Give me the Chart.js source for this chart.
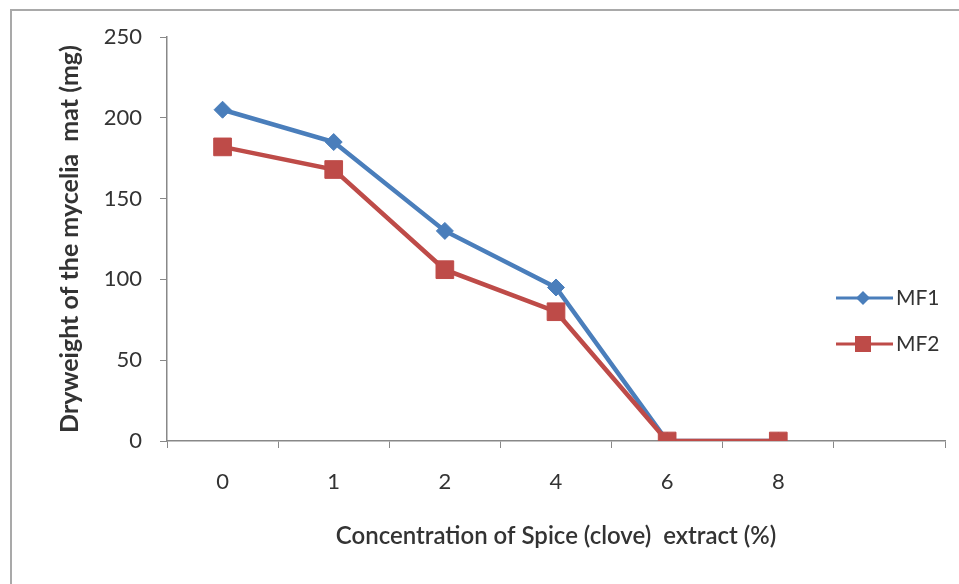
<!DOCTYPE html>
<html lang="en">
<head>
    <meta charset="UTF-8">
    <title>Dry weight of mycelia mat</title>
    <script src="https://cdn.jsdelivr.net/npm/chart.js"></script>
    <style>
        html, body {
            margin: 0;
            padding: 0;
            background: #fff;
            overflow: hidden;
        }
        #wrap {
            position: relative;
            width: 959px;
            height: 584px;
        }
        #frame {
            position: absolute;
            left: 10px;
            top: 9px;
            width: 1000px;
            height: 700px;
            border: 2px solid #a9a9a9;
        }
        canvas {
            position: absolute;
            left: 0;
            top: 0;
        }
    </style>
</head>
<body>
    <div id="wrap">
        <div id="frame"></div>
        <canvas id="chart" width="959" height="584"></canvas>
    </div>

    <script>
        // data
        const concentrations = ['0', '1', '2', '4', '6', '8', ''];
        const mf1 = [205, 185, 130, 95, 0, 0, null];
        const mf2 = [182, 168, 106, 80, 0, 0, null];
        const yTicks = [0, 50, 100, 150, 200, 250];

        const blue = '#4a7ebb';
        const red = '#be4b48';
        const axisGray = '#888888';
        const textColor = '#333333';

        // legend sits inside the empty last slot, drawn by hand
        const sideLegend = {
            id: 'sideLegend',
            afterDraw(chart) {
                const ctx = chart.ctx;
                const items = [
                    { label: 'MF1', color: blue, shape: 'diamond', y: 298 },
                    { label: 'MF2', color: red, shape: 'square', y: 344 }
                ];
                ctx.save();
                items.forEach(it => {
                    ctx.strokeStyle = it.color;
                    ctx.fillStyle = it.color;
                    ctx.lineWidth = 3;
                    ctx.beginPath();
                    ctx.moveTo(836, it.y);
                    ctx.lineTo(893, it.y);
                    ctx.stroke();
                    ctx.beginPath();
                    if (it.shape === 'diamond') {
                        ctx.moveTo(863, it.y - 7);
                        ctx.lineTo(870, it.y);
                        ctx.lineTo(863, it.y + 7);
                        ctx.lineTo(856, it.y);
                        ctx.closePath();
                    } else {
                        ctx.rect(855, it.y - 8, 16, 16);
                    }
                    ctx.fill();
                    ctx.fillStyle = textColor;
                    ctx.font = '21px Lato';
                    ctx.textAlign = 'left';
                    ctx.textBaseline = 'middle';
                    ctx.fillText(it.label, 896, it.y);
                });
                ctx.restore();
            }
        };

        const ctx = document.getElementById('chart').getContext('2d');
        new Chart(ctx, {
            type: 'line',
            data: {
                labels: concentrations,
                datasets: [
                    {
                        label: 'MF1',
                        data: mf1,
                        borderColor: blue,
                        backgroundColor: blue,
                        borderWidth: 4.5,
                        pointStyle: 'rectRot',
                        pointRadius: 8.5,
                        pointBorderWidth: 1,
                        tension: 0,
                        order: 1
                    },
                    {
                        label: 'MF2',
                        data: mf2,
                        borderColor: red,
                        backgroundColor: red,
                        borderWidth: 4.5,
                        pointStyle: 'rect',
                        pointRadius: 12.5,
                        pointBorderWidth: 1,
                        tension: 0,
                        order: 0
                    }
                ]
            },
            options: {
                responsive: false,
                animation: false,
                layout: { padding: { left: 0, right: 14, top: 37, bottom: 0 } },
                plugins: {
                    legend: { display: false },
                    tooltip: { enabled: false }
                },
                scales: {
                    x: {
                        offset: true,
                        grid: {
                            offset: true,
                            drawOnChartArea: false,
                            drawTicks: true,
                            tickLength: 7,
                            color: axisGray
                        },
                        border: { display: true, color: axisGray, width: 1.5 },
                        ticks: {
                            color: textColor,
                            font: { family: 'Lato', size: 22 },
                            padding: 21,
                            maxRotation: 0
                        },
                        title: {
                            display: true,
                            text: 'Concentration of Spice (clove)  extract (%)',
                            color: textColor,
                            font: { family: 'Lato', size: 24, weight: '600' },
                            padding: { top: 0, bottom: 33 }
                        },
                        afterFit(scale) { scale.height = 143; }
                    },
                    y: {
                        min: 0,
                        max: 250,
                        afterBuildTicks(scale) {
                            scale.ticks = yTicks.map(v => ({ value: v }));
                        },
                        grid: {
                            drawOnChartArea: false,
                            drawTicks: true,
                            tickLength: 7,
                            color: axisGray
                        },
                        border: { display: true, color: axisGray, width: 1.5 },
                        ticks: {
                            color: textColor,
                            font: { family: 'Lato', size: 22 },
                            padding: 18
                        },
                        title: {
                            display: true,
                            text: 'Dryweight of the mycelia  mat (mg)',
                            color: textColor,
                            font: { family: 'Lato', size: 25, weight: 'bold' },
                            padding: { top: 55, bottom: 0 }
                        },
                        afterFit(scale) { scale.width = 167; }
                    }
                }
            },
            plugins: [sideLegend]
        });
    </script>
</body>
</html>
